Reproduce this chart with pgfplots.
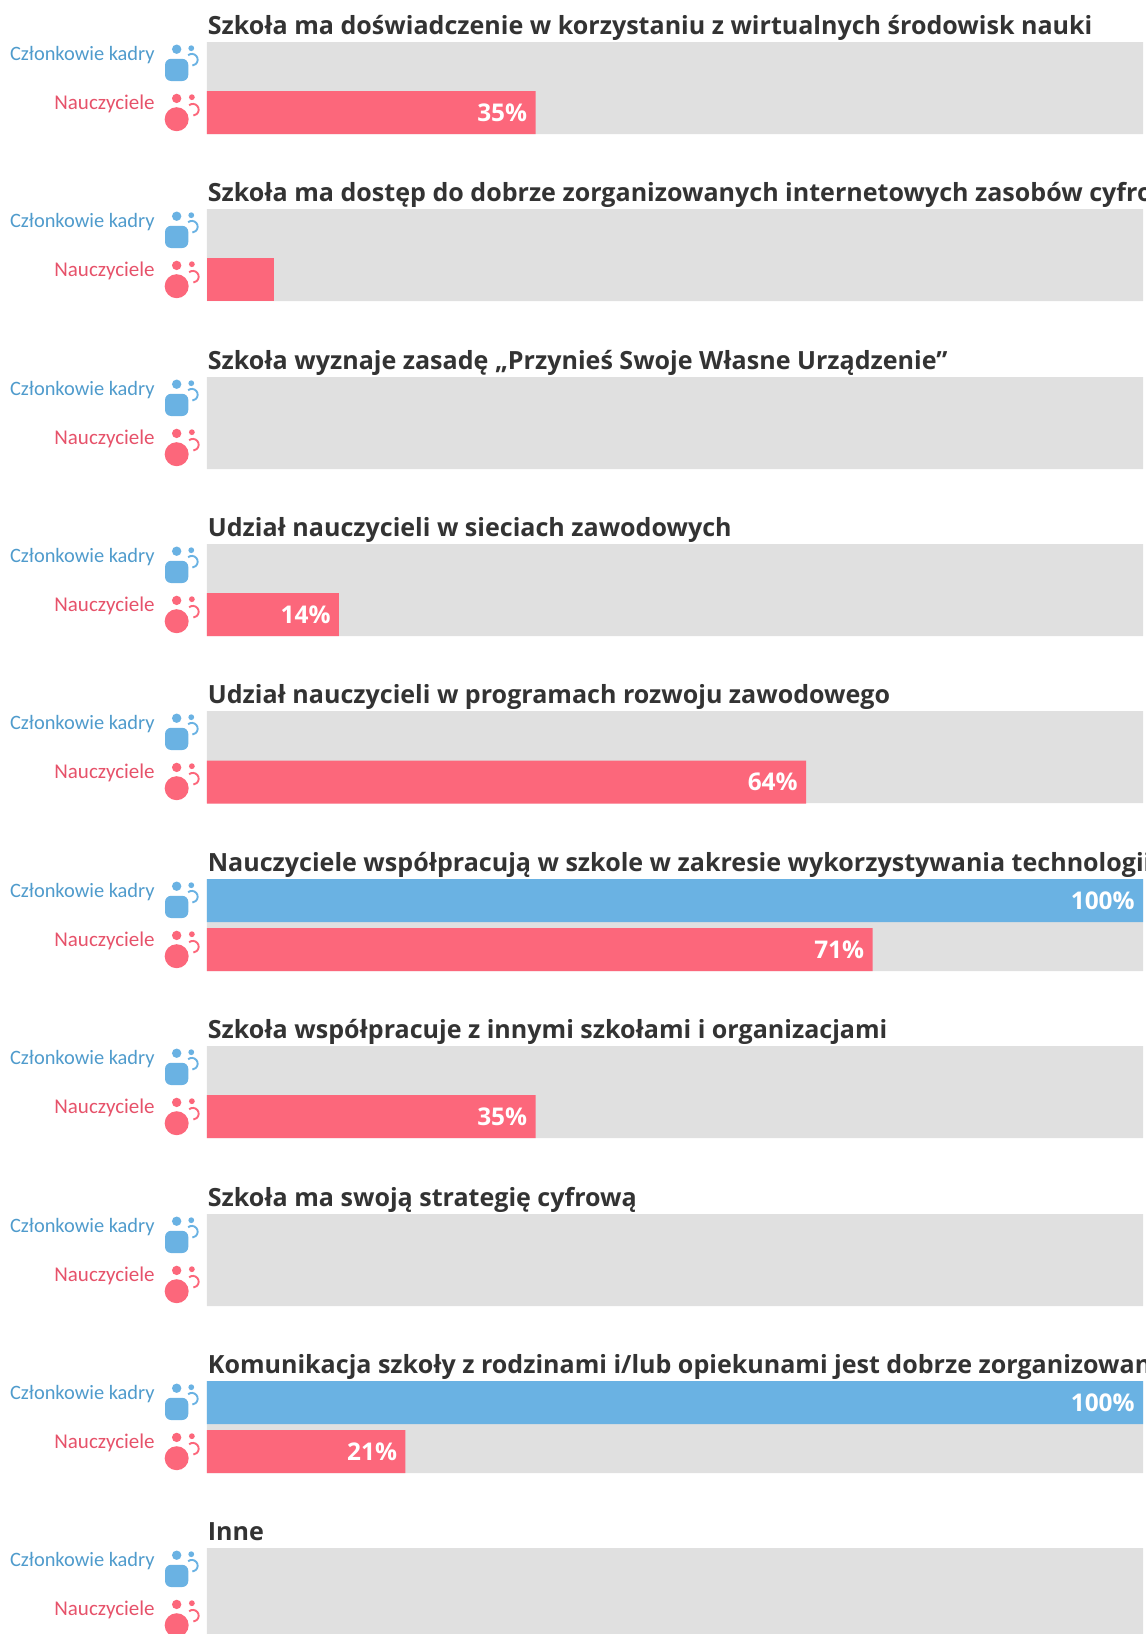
\documentclass[border=0pt]{standalone}
\usepackage{pgfplots}
\pgfplotsset{compat=1.18}
\usepackage{fontspec}
\setmainfont{Open Sans}
\newfontfamily\labelfont{Carlito}
\definecolor{bggrey}{HTML}{E0E0E0}
\definecolor{cblue}{HTML}{6AB2E3}
\definecolor{cred}{HTML}{FC677B}
\definecolor{ttl}{HTML}{333333}
\definecolor{lblue}{HTML}{4F9BCC}
\definecolor{lred}{HTML}{E6526A}
\pgfdeclareplotmark{iconblue}{%
  \pgfsetfillcolor{cblue}\pgfsetstrokecolor{cblue}\pgfsetlinewidth{0.95pt}%
  \pgfpathcircle{\pgfpoint{0pt}{-3.6pt}}{2.35pt}\pgfusepathqfill
  \pgfpathcircle{\pgfpoint{7.3pt}{-3.1pt}}{1.45pt}\pgfusepathqfill
  \begingroup\pgfsetcornersarced{\pgfpoint{3pt}{3pt}}%
  \pgfpathmoveto{\pgfpoint{-5.8pt}{-14pt}}%
  \pgfpathlineto{\pgfpoint{-5.8pt}{-19.5pt}}%
  \pgfpathlineto{\pgfpoint{5.8pt}{-19.5pt}}%
  \pgfpathlineto{\pgfpoint{5.8pt}{-8.4pt}}%
  \pgfpathlineto{\pgfpoint{-5.8pt}{-8.4pt}}%
  \pgfpathclose\pgfusepath{fill}\endgroup
  \pgfpathmoveto{\pgfpointadd{\pgfpoint{7.6pt}{-8.85pt}}{\pgfpointpolar{130}{2.9pt}}}%
  \pgfpatharc{130}{-85}{2.9pt}\pgfusepathqstroke
}
\pgfdeclareplotmark{iconred}{%
  \pgfsetfillcolor{cred}\pgfsetstrokecolor{cred}\pgfsetlinewidth{0.95pt}%
  \pgfpathcircle{\pgfpoint{0pt}{-28.2pt}}{2.35pt}\pgfusepathqfill
  \pgfpathcircle{\pgfpoint{7.6pt}{-27.6pt}}{1.45pt}\pgfusepathqfill
  \pgfpathcircle{\pgfpoint{0pt}{-38.6pt}}{6pt}\pgfusepathqfill
  \pgfpathmoveto{\pgfpointadd{\pgfpoint{8.1pt}{-33.85pt}}{\pgfpointpolar{130}{2.9pt}}}%
  \pgfpatharc{130}{-85}{2.9pt}\pgfusepathqstroke
}
\newcommand{\panel}[2]{%
  \node[anchor=base west,inner sep=0pt,text=ttl,font=\fontsize{12.53}{14}\selectfont\bfseries] at (axis cs:0.05,#1-7.5) {#2};
  \node[anchor=base east,inner sep=0pt,text=lblue,font=\labelfont\fontsize{10.2}{12}\selectfont] at (axis cs:-5.55,#1+18.5) {Członkowie kadry};
  \node[anchor=base east,inner sep=0pt,text=lred,font=\labelfont\fontsize{10.5}{12}\selectfont] at (axis cs:-5.55,#1+67.5) {Nauczyciele};
}
\pgfplotsset{valuelabels/.style={
  nodes near coords={\pgfmathprintnumber{\pgfplotspointmeta}\%},
  every node near coord/.append style={anchor=east,xshift=-4pt,yshift=-0.1pt,inner sep=0pt,text=white,
    font=\fontsize{12.2}{14}\selectfont\bfseries,/pgf/number format/assume math mode=true}}}
\begin{document}
\begin{tikzpicture}
\path[use as bounding box] (0,0) rectangle (573pt,817pt);
\begin{axis}[
  at={(0,0)},anchor=south west,
  scale only axis,width=573pt,height=817pt,
  xmin=-22.115,xmax=100.32,ymin=0,ymax=1634,y dir=reverse,
  hide axis,
  bar shift=0pt,
]
% grey background bands
\addplot[xbar,bar shift=0pt,bar width=46pt,fill=bggrey,draw=none] coordinates {
(100,88)(100,255)(100,423)(100,590)(100,757)(100,925)(100,1092)(100,1260)(100,1427)(100,1594)};
% staff (Członkowie kadry)
\addplot[xbar,bar shift=0pt,bar width=21.5pt,fill=cblue,draw=none,valuelabels,point meta={round(x)}]
  coordinates {(100,900.5)(100,1402.5)};
% teachers (Nauczyciele) with labels
\addplot[xbar,bar shift=0pt,bar width=21.5pt,fill=cred,draw=none,valuelabels,point meta={round(x)}]
  coordinates {(35.1,112.5)(14.1,614.5)(64,782)(71.1,949.5)(35.1,1116.5)(21.2,1451.5)};
% teachers, unlabelled short bar
\addplot[xbar,bar shift=0pt,bar width=21.5pt,fill=cred,draw=none] coordinates {(7.2,279.5)};
% icons
\addplot[only marks,mark=iconblue] coordinates {
(-3.24,42)(-3.24,209)(-3.24,377)(-3.24,544)(-3.24,711)(-3.24,879)(-3.24,1046)(-3.24,1214)(-3.24,1381)(-3.24,1548)};
\addplot[only marks,mark=iconred] coordinates {
(-3.24,42)(-3.24,209)(-3.24,377)(-3.24,544)(-3.24,711)(-3.24,879)(-3.24,1046)(-3.24,1214)(-3.24,1381)(-3.24,1548)};
\panel{42}{Szkoła ma doświadczenie w korzystaniu z wirtualnych środowisk nauki}
\panel{209}{Szkoła ma dostęp do dobrze zorganizowanych internetowych zasobów cyfrowych}
\panel{377}{Szkoła wyznaje zasadę „Przynieś Swoje Własne Urządzenie”}
\panel{544}{Udział nauczycieli w sieciach zawodowych}
\panel{711}{Udział nauczycieli w programach rozwoju zawodowego}
\panel{879}{Nauczyciele współpracują w szkole w zakresie wykorzystywania technologii cyfrowych}
\panel{1046}{Szkoła współpracuje z innymi szkołami i organizacjami}
\panel{1214}{Szkoła ma swoją strategię cyfrową}
\panel{1381}{Komunikacja szkoły z rodzinami i/lub opiekunami jest dobrze zorganizowana}
\panel{1548}{Inne}
\end{axis}
\end{tikzpicture}
\end{document}
